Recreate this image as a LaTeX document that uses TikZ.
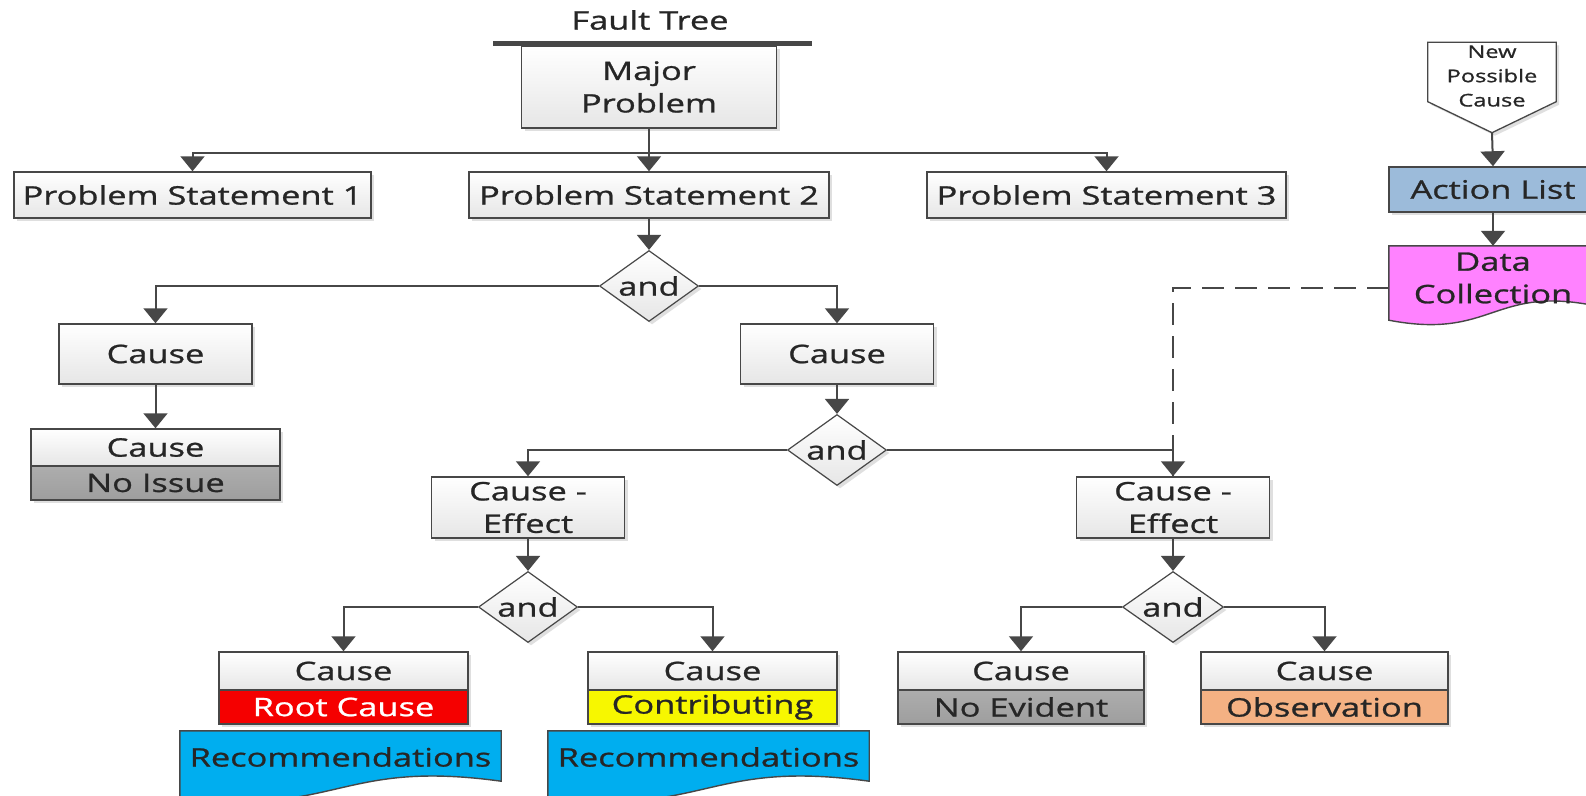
\documentclass[tikz,border=0pt]{standalone}
\usepackage{fontspec}
\setmainfont{Open Sans}[FakeStretch=1.35,FakeBold=1]
\usetikzlibrary{shapes.geometric,arrows.meta,shadows,calc}
\definecolor{linec}{HTML}{474747}
\definecolor{txt}{HTML}{262626}
\definecolor{boxg}{HTML}{E6E6E6}
\definecolor{greyfill}{HTML}{ADADAD}
\definecolor{greyfillb}{HTML}{9E9E9E}
\definecolor{rootred}{HTML}{F50000}
\definecolor{contyel}{HTML}{F7F700}
\definecolor{obsorange}{HTML}{F4B183}
\definecolor{recblue}{HTML}{00AEEF}
\definecolor{actblue}{HTML}{9CBBDA}
\definecolor{datapink}{HTML}{FF82FF}
\newcommand\mainsz{\fontsize{25.5}{32.5}\selectfont}
\newcommand\smallsz{\fontsize{17.5}{24.3}\selectfont}
% document-like outline with a wavy lower edge around a named node
\newcommand\wavedoc[3]{%
  \filldraw[fill=#2, draw=linec, line width=1.4pt]
    (#1.north west) -- (#1.north east) -- ($(#1.south east)+(0,-4)$)
    .. controls ($(#1.south)+(0,-26)$) and ($(#1.south)+(0,30)$)
    .. ($(#1.south west)+(0,#3)$) -- cycle;}
\begin{document}
\begin{tikzpicture}[x=1pt,y=-1pt,
  softshadow/.style={drop shadow={opacity=0.25,shadow xshift=3pt,shadow yshift=-3pt}},
  box/.style={draw=linec, line width=1.5pt, top color=white, bottom color=boxg,
    softshadow, font=\mainsz, text=txt, align=center, inner sep=0pt},
  tagbox/.style={draw=linec, line width=1.5pt, softshadow, font=\mainsz,
    text=txt, align=center, inner sep=0pt},
  gate/.style={diamond, aspect=1.4, draw=linec, line width=1.2pt, top color=white,
    bottom color=boxg, softshadow, font=\mainsz, text=txt, inner sep=0pt,
    minimum width=99pt, minimum height=71pt},
  arr/.style={draw=linec, line width=2pt, -{Triangle[width=24pt,length=15pt]}},
  dashline/.style={draw=linec, line width=2pt, dash pattern=on 22pt off 11pt},
  plain/.style={font=\mainsz, text=txt, inner sep=0pt, align=center}]
\useasboundingbox (0,0) rectangle (1586,795);
\clip (0,0) rectangle (1586,795);
\fill[white] (0,0) rectangle (1586,795);

% heading and top event
\node[plain] (ft) at (650,20) {Fault Tree};
\node[fill=linec, minimum width=319pt, minimum height=5pt, inner sep=0pt] (bar) at (652.5,43.5) {};
\node[box, minimum width=255pt, minimum height=82pt] (mp) at (649,87) {Major\\Problem};

% problem statements
\node[box, minimum width=357pt, minimum height=46pt] (ps1) at (192.5,195) {Problem Statement 1};
\node[box, minimum width=360pt, minimum height=46pt] (ps2) at (649,195) {Problem Statement 2};
\node[box, minimum width=359pt, minimum height=46pt] (ps3) at (1106.5,195) {Problem Statement 3};

% first gate and its causes
\node[gate] (d1) at (649,286) {and};
\node[box, minimum width=193pt, minimum height=60pt] (c1) at (155.5,354) {Cause};
\node[box, minimum width=193pt, minimum height=60pt] (c2) at (837,354) {Cause};
\node[box, minimum width=249pt, minimum height=37pt] (c3) at (155.5,447.5) {Cause};
\node[tagbox, top color=greyfill, bottom color=greyfillb, minimum width=249pt, minimum height=34pt] (c3b) at (155.5,483) {No Issue};

% second gate
\node[gate] (d2) at (837,450) {and};
\node[box, minimum width=193pt, minimum height=61pt] (ce1) at (528,507.5) {Cause -\\Effect};
\node[box, minimum width=193pt, minimum height=61pt] (ce2) at (1173,507.5) {Cause -\\Effect};

% data collection feeding the right branch
\node[inner sep=0pt, minimum width=208pt, minimum height=64pt] (dc) at (1493,278) {};
\wavedoc{dc}{datapink}{10}
\node[plain] at (dc.center) {Data\\Collection};
\draw[dashline] ($(dc.west)+(0,10)$) -| (ce2.north);

% lower gates
\node[gate] (d3) at (528,607) {and};
\node[gate, minimum width=101pt] (d4) at (1173,607) {and};

% leaf causes with their classification
\node[box, minimum width=249pt, minimum height=38pt] (c4) at (343.5,671) {Cause};
\node[tagbox, fill=rootred, text=white, minimum width=249pt, minimum height=34pt] (c4b) at (343.5,707) {Root Cause};
\node[box, minimum width=249pt, minimum height=38pt] (c5) at (712.5,671) {Cause};
\node[tagbox, fill=contyel, minimum width=249pt, minimum height=34pt] (c5b) at (712.5,707) {Contributing};
\node[box, minimum width=246pt, minimum height=38pt] (c6) at (1021,671) {Cause};
\node[tagbox, top color=greyfill, bottom color=greyfillb, minimum width=246pt, minimum height=34pt] (c6b) at (1021,707) {No Evident};
\node[box, minimum width=247pt, minimum height=38pt] (c7) at (1324.5,671) {Cause};
\node[tagbox, fill=obsorange, minimum width=247pt, minimum height=34pt] (c7b) at (1324.5,707) {Observation};

% recommendations
\node[inner sep=0pt, minimum width=321pt, minimum height=54pt] (r1) at (340.5,758) {};
\wavedoc{r1}{recblue}{14}
\node[plain] at (340.5,757) {Recommendations};
\node[inner sep=0pt, minimum width=321pt, minimum height=54pt] (r2) at (708.5,758) {};
\wavedoc{r2}{recblue}{14}
\node[plain] at (708.5,757) {Recommendations};

% new possible cause and action list
\node[inner sep=0pt, minimum width=128pt, minimum height=59pt] (npc) at (1492,72) {};
\filldraw[fill=white, draw=linec, line width=1.3pt, softshadow]
  (npc.north west) -- (npc.north east) -- (npc.south east) -- ($(npc.south)+(0,31)$)
  -- (npc.south west) -- cycle;
\node[font=\smallsz, text=txt, align=center, inner sep=0pt] at (1492,76) {New\\Possible\\Cause};
\coordinate (npctip) at ($(npc.south)+(0,31)$);
\node[tagbox, fill=actblue, minimum width=208pt, minimum height=45pt] (al) at (1493,189.5) {Action List};

% connectors
\draw[arr] (mp.south) -- (ps2.north);
\draw[arr] ($(mp.south)+(0,24)$) -| (ps1.north);
\draw[arr] ($(mp.south)+(0,24)$) -| (ps3.north);
\draw[arr] (ps2.south) -- (d1.north);
\draw[arr] (d1.west) -| (c1.north);
\draw[arr] (d1.east) -| (c2.north);
\draw[arr] (c1.south) -- (c3.north);
\draw[arr] (c2.south) -- (d2.north);
\draw[arr] (d2.west) -| (ce1.north);
\draw[arr] (d2.east) -| (ce2.north);
\draw[arr] (ce1.south) -- (d3.north);
\draw[arr] (ce2.south) -- (d4.north);
\draw[arr] (d3.west) -| (c4.north);
\draw[arr] (d3.east) -| (c5.north);
\draw[arr] (d4.west) -| (c6.north);
\draw[arr] (d4.east) -| (c7.north);
\draw[arr] (npctip) -- (al.north);
\draw[arr] (al.south) -- (dc.north);
\end{tikzpicture}
\end{document}
